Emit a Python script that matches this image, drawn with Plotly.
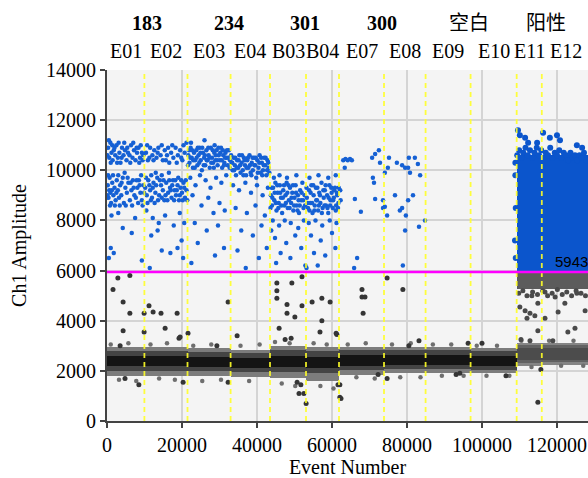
import plotly.graph_objects as go

# ---------------- data ----------------
wells = ["E01", "E02", "E03", "E04", "B03", "B04", "E07", "E08", "E09", "E10", "E11", "E12"]
well_start = [0, 9970, 21470, 32960, 43470, 53070, 61870, 73870, 84960, 96960, 109250, 115950]
well_end = [9970, 21470, 32960, 43470, 53070, 61870, 73870, 84960, 96960, 109250, 115950, 129000]
sample_groups = ["183", "234", "301", "300", "空白", "阳性"]
group_x = [10700, 32500, 52700, 73400, 96500, 117000]
threshold = 5943

# negative droplet band per well (amplitude)
neg_core_lo = [2200, 2200, 2150, 2100, 2150, 2100, 2200, 2250, 2250, 2200, 2450, 2450]
neg_core_hi = [2600, 2600, 2550, 2500, 2600, 2550, 2650, 2650, 2650, 2600, 2900, 2900]
neg_mid_lo = [2000, 2000, 1980, 1950, 1950, 1900, 2050, 2080, 2080, 2050, 2330, 2350]
neg_mid_hi = [2800, 2800, 2750, 2700, 2850, 2800, 2820, 2820, 2820, 2780, 3020, 3020]
neg_halo_lo = [1800, 1800, 1800, 1750, 1700, 1600, 1850, 1900, 1900, 1900, 2200, 2250]
neg_halo_hi = [2950, 2950, 2900, 2850, 3000, 2950, 2950, 2950, 2950, 2900, 3100, 3100]

# dense positive block of the positive control wells (E11, E12)
pos_block_lo = 5943
pos_block_hi = 10600
rain_block_lo = 5250

# positive droplets (thousand events, thousand amplitude)
pos_E01 = [(0.3,10.9),(0.6,10.5),(0.9,11.1),(1.2,10.7),(1.5,10.4),(1.8,10.8),(2.2,10.6),(2.5,11.0),(2.9,10.5),
           (3.3,10.7),(3.6,10.3),(4.0,10.9),(4.4,10.6),(4.8,10.8),(5.2,10.4),(5.6,10.7),(6.0,10.6),(6.4,11.0),
           (6.8,10.5),(7.2,10.8),(7.6,10.4),(8.0,10.7),(8.4,10.9),(8.8,10.5),(9.3,10.7),(9.7,10.6),
           (0.1,10.6),(0.5,11.2),(1.0,10.3),(1.4,11.0),(2.0,10.9),(2.7,10.3),(3.1,11.1),(3.9,10.5),(4.6,11.1),
           (5.4,10.9),(6.2,10.3),(7.0,11.1),(7.9,10.9),(8.6,10.3),(9.0,11.0),(9.5,10.4),
           (0.2,9.4),(0.4,8.9),(0.7,9.7),(0.9,9.1),(1.1,8.7),(1.4,9.5),(1.7,9.0),(2.0,9.3),(2.3,8.8),(2.6,9.6),
           (2.9,9.2),(3.2,8.9),(3.5,9.4),(3.8,9.0),(4.2,9.7),(4.5,8.7),(4.9,9.3),(5.3,9.1),(5.7,9.5),(6.1,8.8),
           (6.5,9.2),(6.9,9.6),(7.3,9.0),(7.7,8.9),(8.1,9.3),(8.5,9.6),(8.9,9.1),(9.3,8.8),(9.7,9.4),
           (0.1,9.0),(0.3,9.8),(0.6,9.2),(0.8,8.6),(1.3,9.2),(1.6,9.8),(2.1,8.6),(2.5,9.1),(3.0,9.8),(3.4,8.6),
           (3.9,9.5),(4.7,9.9),(5.0,8.6),(5.5,9.7),(6.3,9.5),(6.7,8.6),(7.1,9.3),(7.9,9.6),(8.3,8.7),(8.7,9.4),
           (9.1,9.8),(9.5,8.6),(9.9,9.1),
           (1.2,8.2),(3.0,8.3),(4.2,7.7),(7.5,8.1),(1.0,6.9),(1.8,6.7),(0.5,6.5),(9.3,6.4),(6.6,7.5)]
pos_E02 = [(10.4,10.7),(10.9,10.4),(11.5,10.9),(12.1,10.6),(12.6,10.8),(13.2,10.5),(13.7,10.9),(14.3,10.6),
           (14.9,10.4),(15.4,10.8),(16.0,10.6),(16.6,10.3),(17.1,10.7),(17.7,10.5),(18.3,10.9),(18.9,10.6),
           (19.5,10.8),(20.1,10.4),(20.7,10.7),(21.2,11.1),
           (10.7,11.0),(11.3,10.5),(12.4,10.4),(13.5,10.7),(14.6,11.0),(15.7,10.4),(16.3,10.9),(17.4,11.0),
           (18.6,10.3),(19.8,10.5),(20.4,11.0),
           (10.2,9.3),(10.6,9.0),(11.0,9.6),(11.5,9.2),(12.0,8.9),(12.4,9.5),(12.9,9.1),(13.4,9.7),(13.9,9.0),
           (14.4,9.4),(14.9,9.2),(15.3,8.8),(15.8,9.5),(16.3,9.1),(16.8,9.3),(17.2,8.9),(17.6,9.6),(18.0,9.2),
           (18.4,9.0),(18.8,9.4),(19.2,8.8),(19.6,9.3),(20.0,9.1),(20.4,9.5),(20.8,8.9),(21.2,9.2),
           (10.4,9.7),(10.8,8.7),(11.3,9.4),(11.7,8.8),(12.2,9.3),(12.7,8.7),(13.1,9.4),(13.6,8.8),(14.1,9.6),
           (14.6,8.9),(15.1,9.6),(15.6,9.0),(16.1,8.8),(16.6,9.6),(17.0,9.2),(17.4,9.4),(17.9,8.8),(18.2,9.6),
           (18.6,9.2),(19.0,9.7),(19.4,9.0),(19.8,9.6),(20.2,8.8),(20.6,9.3),(21.0,9.6),(21.4,8.8),
           (11.8,9.8),(13.0,9.9),(14.6,9.8),(16.5,9.9),
           (10.5,8.4),(12.2,8.1),(13.8,7.9),(15.5,8.2),(17.8,7.8),(19.4,8.3),(20.6,7.9),(11.8,7.4),(13.5,7.6),
           (14.6,6.8),(16.9,6.7),(18.8,6.9),(19.9,7.2),(11.4,6.1),(20.3,6.5)]
pos_E03 = [(21.7,10.6),(22.0,10.3),(22.3,10.9),(22.6,10.5),(22.9,10.1),(23.2,10.7),(23.5,10.4),(23.8,10.8),
           (24.1,10.2),(24.4,10.6),(24.7,10.9),(25.0,10.4),(25.3,10.0),(25.6,10.7),(25.9,10.5),(26.2,10.2),
           (26.5,10.8),(26.8,10.4),(27.1,10.6),(27.4,10.1),(27.7,10.9),(28.0,10.5),(28.3,10.3),(28.6,10.7),
           (28.9,10.4),(29.2,10.8),(29.5,10.2),(29.8,10.6),(30.1,10.4),(30.4,10.9),(30.7,10.1),(31.0,10.6),
           (31.3,10.3),(31.6,10.7),(31.9,10.5),(32.2,10.2),(32.5,10.8),(32.8,10.4),
           (21.6,10.2),(21.9,10.8),(22.2,10.5),(22.7,10.8),(23.0,10.4),(23.4,10.1),(23.9,10.5),(24.2,10.9),
           (24.6,10.3),(24.9,10.7),(25.4,10.9),(25.8,10.2),(26.1,10.6),(26.6,10.4),(27.0,10.9),(27.3,10.5),
           (27.8,10.3),(28.2,10.8),(28.5,10.1),(29.0,10.6),(29.4,10.4),(29.7,10.9),(30.2,10.7),(30.6,10.4),
           (30.9,10.8),(31.2,10.2),(31.5,10.5),(32.0,10.8),(32.4,10.5),(32.7,10.1),
           (22.4,11.1),(26.0,11.2),(28.7,11.0),
           (22.2,9.7),(23.6,9.4),(24.8,9.8),(26.3,9.6),(27.6,9.3),(29.1,9.7),(30.5,9.5),(31.8,9.8),(22.8,9.0),
           (25.2,8.6),(27.0,8.9),(28.4,8.3),(30.0,8.7),(31.4,8.4),(23.4,7.9),(26.6,7.6),(29.6,7.8),(24.2,7.1),
           (28.8,6.6),(31.2,6.9),(22.5,6.3)]
pos_E04 = [(33.2,10.3),(33.5,10.0),(33.8,10.5),(34.1,10.2),(34.4,9.8),(34.7,10.4),(35.0,10.1),(35.3,10.6),
           (35.6,9.9),(35.9,10.3),(36.2,10.0),(36.5,10.5),(36.8,10.2),(37.1,9.8),(37.4,10.4),(37.7,10.1),
           (38.0,10.6),(38.3,9.9),(38.6,10.3),(38.9,10.0),(39.2,10.5),(39.5,10.2),(39.8,9.7),(40.1,10.4),
           (40.4,10.1),(40.7,10.6),(41.0,9.9),(41.3,10.3),(41.6,10.0),(41.9,10.5),(42.2,10.2),(42.5,9.8),
           (42.8,10.4),(43.1,10.1),
           (33.1,10.6),(33.4,10.3),(33.9,10.0),(34.2,10.5),(34.6,10.1),(35.1,10.4),(35.5,10.2),(36.0,10.6),
           (36.4,9.8),(36.7,10.4),(37.2,10.1),(37.6,10.5),(38.1,10.2),(38.5,9.8),(38.8,10.5),(39.3,10.2),
           (39.7,10.5),(40.2,9.9),(40.6,10.3),(41.1,10.5),(41.4,9.8),(41.8,10.2),(42.3,10.5),(42.7,10.0),
           (43.0,10.3),(43.3,9.9),
           (33.6,9.4),(35.2,9.2),(36.9,9.5),(38.4,9.1),(40.0,9.4),(41.5,9.0),(42.9,9.3),(34.3,8.5),(37.3,8.3),
           (39.6,8.6),(42.1,8.2),(35.8,7.6),(38.9,7.4),(41.2,7.8),(34.8,6.8),(40.5,6.5),(42.6,6.9),(37.0,6.1)]
pos_B03 = [(43.7,9.0),(44.0,8.6),(44.3,9.3),(44.6,8.8),(44.9,9.5),(45.2,8.4),(45.5,9.1),(45.8,8.7),(46.1,9.4),
           (46.4,8.9),(46.7,8.3),(47.0,9.2),(47.3,8.6),(47.6,9.0),(47.9,9.5),(48.2,8.5),(48.5,8.8),(48.8,9.3),
           (49.1,8.7),(49.4,9.1),(49.7,8.4),(50.0,8.9),(50.3,9.4),(50.6,8.6),(50.9,9.0),(51.2,8.3),(51.5,9.2),
           (51.8,8.8),(52.1,9.5),(52.4,8.5),(52.7,9.0),(44.5,9.7),(46.0,9.8),(48.0,9.7),(50.5,9.8),
           (43.6,8.5),(43.9,9.3),(44.1,8.9),(44.7,9.1),(45.0,8.7),(45.4,9.4),(45.7,8.5),(46.2,9.1),(46.5,8.6),
           (46.9,8.9),(47.2,9.4),(47.7,8.7),(48.1,9.1),(48.4,9.4),(48.7,8.5),(49.2,8.9),(49.6,9.4),(49.9,8.6),
           (50.4,9.1),(50.8,8.4),(51.1,8.8),(51.4,8.6),(51.9,9.1),(52.3,8.8),(52.8,8.6),
           (44.2,8.0),(45.9,7.8),(47.4,8.0),(49.0,7.9),(51.0,7.7),(52.5,8.0),(44.8,7.3),(47.8,7.1),(50.2,7.4),
           (46.3,6.7),(48.9,6.5),(51.8,6.9),(45.1,6.3),(52.9,6.2),(43.8,7.6)]
pos_B04 = [(53.3,8.9),(53.6,8.5),(53.9,9.2),(54.2,8.7),(54.5,9.4),(54.8,8.3),(55.1,9.0),(55.4,8.6),(55.7,9.3),
           (56.0,8.8),(56.3,8.4),(56.6,9.1),(56.9,8.7),(57.2,9.5),(57.5,8.5),(57.8,8.9),(58.1,9.2),(58.4,8.6),
           (58.7,9.0),(59.0,8.3),(59.3,9.4),(59.6,8.8),(59.9,9.1),(60.2,8.5),(60.5,8.9),(60.8,9.3),(61.1,8.6),
           (61.4,9.0),(61.7,8.7),(54.0,9.7),(56.4,9.8),(59.0,9.7),(61.0,9.8),
           (53.2,9.3),(53.5,8.7),(54.0,8.4),(54.3,9.1),(54.7,8.7),(55.0,9.4),(55.3,8.4),(55.8,8.8),(56.1,9.3),
           (56.5,8.6),(56.8,9.0),(57.3,8.3),(57.7,9.2),(58.0,8.6),(58.3,9.4),(58.8,8.5),(59.1,8.9),(59.5,8.6),
           (59.8,9.3),(60.3,8.8),(60.6,9.2),(61.0,8.4),(61.3,9.1),(61.6,8.5),(61.8,9.3),
           (53.8,7.9),(55.6,8.0),(57.4,7.8),(59.4,8.0),(61.2,7.9),(54.4,7.4),(57.0,7.2),(60.0,7.5),(55.2,6.7),
           (58.2,6.6),(60.9,6.9),(56.2,6.2),(53.2,6.1)]
pos_E07 = [(63.0,10.4),(63.6,10.45),(64.2,10.4),(64.8,10.45),(65.3,10.4),(63.4,10.1),(66.1,8.85),(67.7,8.35),
           (71.5,8.85),(70.9,9.7),(70.7,10.5),(71.5,10.65),(72.5,10.8),(72.8,10.3),(66.7,6.5),(65.9,6.1),
           (71.2,9.5),(62.3,8.8),(62.2,9.2),(73.6,8.5)]
pos_E08 = [(73.6,8.8),(74.1,8.55),(74.7,8.2),(75.2,10.5),(74.9,10.1),(74.1,9.9),(76.8,9.0),(77.3,10.3),
           (78.7,8.5),(78.1,8.4),(78.7,10.2),(79.5,10.1),(80.5,10.5),(80.3,10.1),(80.8,9.9),(82.1,10.5),
           (82.9,10.25),(83.5,9.8),(81.6,9.0),(80.3,8.8),(79.7,8.2),(79.5,7.6),(83.2,7.75),(84.8,8.0),(78.9,6.2)]
pos_E11_E12 = [(109.4,10.6),(109.9,10.8),(110.5,10.5),(111.0,10.7),(111.6,10.9),(112.2,10.6),(112.8,10.8),
               (113.4,10.5),(114.0,10.7),(114.6,10.9),(115.2,10.6),(115.8,10.8),(116.4,10.5),(117.0,10.7),
               (117.6,10.6),(118.2,10.9),(118.8,10.5),(119.4,10.7),(120.0,10.6),(120.6,10.8),(121.2,10.5),
               (121.8,10.7),(122.4,10.6),(123.0,10.4),(123.6,10.7),(124.2,10.5),(124.8,10.6),(125.4,10.4),
               (126.0,10.6),(126.6,10.5),(127.2,10.7),(127.8,10.4),
               (109.6,11.6),(110.1,11.4),(111.5,11.3),(112.3,11.1),(114.7,11.1),(116.3,11.5),(118.1,11.3),
               (120.0,11.4),(120.8,11.2),(125.3,11.0),(126.7,10.9),
               (108.9,9.8),(109.0,8.5),(108.8,7.2),(109.0,6.5),(108.9,10.3)]

# negative "rain" droplets (thousand events, thousand amplitude)
rain_mid = [(1.6,5.25),(2.9,5.7),(6.1,5.8),(4.3,4.75),(6.1,4.3),(4.3,3.6),(9.9,4.3),(11.2,4.6),(12.3,4.35),
            (14.4,4.3),(9.9,3.55),(15.5,3.7),(18.7,4.3),(19.2,3.3),(21.6,3.5),(32.3,4.75),(34.7,3.4),
            (29.3,3.0),(45.3,5.5),(45.3,5.2),(49.3,5.5),(45.3,4.9),(48.0,4.65),(48.0,4.3),(50.1,4.15),
            (52.0,5.75),(52.0,4.6),(45.9,3.7),(47.5,3.25),(49.1,3.3),(54.7,4.75),(57.3,4.9),(59.5,4.75),
            (57.3,4.0),(56.8,3.55),(61.3,3.45),(3.5,3.0),(19.5,3.35),(61.1,3.5),(68.0,5.25),(68.0,4.95),
            (68.8,4.95),(68.3,4.3),(74.7,5.7),(78.9,5.25),(83.2,3.2),(100.0,3.1),(80.5,3.0),(96.3,3.1)]
rain_low = [(72.3,1.85),(74.7,1.7),(62.1,0.95),(62.1,1.45),(93.1,1.85),(94.1,1.9),(106.4,1.8),(114.9,0.75),
            (115.7,2.05),(8.5,1.45),(4.8,1.7),(20.3,1.55),(32.3,1.55),(51.2,1.1),(51.7,1.45),(53.1,0.7),
            (52.5,1.1),(50.7,1.55),(61.6,1.45),(62.4,0.9)]
band_fringe = [(1.0,3.05),(3.2,1.65),(5.7,3.1),(7.8,1.6),(11.6,3.05),(13.9,1.7),(16.0,3.1),(18.1,1.65),
               (23.0,3.0),(25.4,1.6),(27.8,3.05),(30.4,1.65),(35.6,3.0),(37.9,1.6),(40.7,3.05),(44.8,3.15),
               (46.6,1.5),(48.7,3.1),(50.2,1.4),(55.1,3.1),(56.9,1.4),(58.6,3.05),(60.4,1.3),(64.2,3.05),
               (66.5,1.75),(69.0,3.1),(71.4,1.7),(76.0,3.05),(78.2,1.75),(81.0,3.1),(83.6,1.75),(86.9,3.05),
               (89.3,1.8),(91.8,3.05),(95.1,1.8),(98.6,3.0),(101.2,1.8),(104.0,3.0),(107.3,1.8),(110.5,3.2),
               (113.2,2.15),(117.9,3.2),(121.1,2.2),(124.4,3.2),(127.0,2.2)]
rain_pos_ctrl = [(110.1,4.55),(111.5,4.4),(112.8,4.3),(114.1,4.2),(114.9,4.7),(112.0,4.1),(114.9,3.6),
                 (116.8,4.1),(120.3,4.35),(122.1,4.7),(122.9,3.55),(124.8,3.7),(127.5,4.4),(118.9,3.2),
                 (112.8,3.2),(110.4,3.25),(125.3,5.1),(119.5,4.95),(113.3,5.0),(116.8,5.15),
                 (109.8,5.1),(110.9,5.2),(112.0,5.0),(113.5,5.15),(114.8,5.05),(116.2,5.2),(117.5,5.0),
                 (118.7,5.1),(120.1,5.25),(121.4,5.05),(122.6,5.15),(123.9,5.0),(125.1,5.2),(126.4,5.1),
                 (127.6,5.0)]

x_ticks = [0, 20000, 40000, 60000, 80000, 100000, 120000]
y_ticks = [0, 2000, 4000, 6000, 8000, 10000, 12000, 14000]
x_max = 128270
y_max = 14000

# ---------------- figure ----------------
SERIF = "Liberation Serif, Times New Roman, serif"
BLUE = "#1560d4"
fig = go.Figure()

centers = [(s + e) / 2 for s, e in zip(well_start, well_end)]
widths = [e - s for s, e in zip(well_start, well_end)]
ctrl = [i for i, w in enumerate(wells) if w in ("E11", "E12")]
samp = [i for i, w in enumerate(wells) if w not in ("E11", "E12")]


def band(idx, lo, hi, color):
    fig.add_trace(go.Bar(x=[centers[i] for i in idx], width=[widths[i] for i in idx],
                         base=[lo[i] for i in idx], y=[hi[i] - lo[i] for i in idx],
                         marker=dict(color=color, line=dict(width=0)), showlegend=False,
                         hoverinfo="skip"))


band(samp, neg_halo_lo, neg_halo_hi, "#7c7c7c")
band(samp, neg_mid_lo, neg_mid_hi, "#444444")
band(samp, neg_core_lo, neg_core_hi, "#141414")
band(ctrl, neg_halo_lo, neg_halo_hi, "#858585")
band(ctrl, neg_mid_lo, neg_mid_hi, "#626262")
band(ctrl, neg_core_lo, neg_core_hi, "#4c4c4c")

# positive control dense blocks
cx0, cx1 = well_start[ctrl[0]], well_end[ctrl[-1]]
fig.add_trace(go.Bar(x=[(cx0 + cx1) / 2], width=[cx1 - cx0], base=[rain_block_lo],
                     y=[threshold - rain_block_lo], marker=dict(color="#5c5c5c", line=dict(width=0)),
                     showlegend=False))
fig.add_trace(go.Bar(x=[(cx0 + cx1) / 2], width=[cx1 - cx0], base=[pos_block_lo],
                     y=[pos_block_hi - pos_block_lo], marker=dict(color="#0b55cc", line=dict(width=0)),
                     showlegend=False))


def pts(lst, color, size):
    fig.add_trace(go.Scatter(x=[p[0] * 1000 for p in lst], y=[p[1] * 1000 for p in lst], mode="markers",
                             marker=dict(color=color, size=size, line=dict(width=0)), showlegend=False))


pts(band_fringe, "#6e6e6e", 4.5)
pts(rain_mid + rain_low, "#353535", 5)
pts(rain_pos_ctrl, "#4a4a4a", 5)
pts(pos_E01 + pos_E02 + pos_E03 + pos_E04 + pos_B03 + pos_B04 + pos_E07 + pos_E08, BLUE, 4.5)
pts(pos_E11_E12, "#0b55cc", 6)

shapes = []
for xb in well_start[1:]:
    shapes.append(dict(type="line", xref="x", yref="y", x0=xb, x1=xb, y0=0, y1=y_max,
                       line=dict(color="rgba(255,255,40,0.9)", width=1.8, dash="5px,4px")))
shapes.append(dict(type="line", xref="x", yref="y", x0=0, x1=x_max, y0=threshold, y1=threshold,
                   line=dict(color="#ff00ff", width=2.5)))

ann = []
for w, c in zip(wells, centers):
    ann.append(dict(x=c, y=1.054, xref="x", yref="paper", text=w, showarrow=False,
                    font=dict(family=SERIF, size=20, color="black"), yanchor="middle"))
for g, gx in zip(sample_groups, group_x):
    txt = g if not g.isdigit() else "<b>" + g + "</b>"
    ann.append(dict(x=gx, y=1.134, xref="x", yref="paper", text=txt, showarrow=False,
                    font=dict(family="Liberation Serif, Noto Sans CJK SC", size=20, color="black"),
                    yanchor="middle"))
ann.append(dict(x=118900, y=threshold + 400, xref="x", yref="y", text=str(threshold), showarrow=False,
                xanchor="left", yanchor="middle",
                font=dict(family="Liberation Sans, Arial", size=15, color="black")))

fig.update_layout(
    width=588, height=478, autosize=False, margin=dict(l=107, r=0, t=70, b=57, autoexpand=False),
    paper_bgcolor="white", plot_bgcolor="#f4f4f4", barmode="overlay", bargap=0,
    shapes=shapes, annotations=ann, showlegend=False,
    xaxis=dict(range=[0, x_max], tickvals=x_ticks, tickformat="d", ticks="outside", ticklen=5, tickwidth=1.5,
               tickcolor="#444", showline=True, linecolor="#444", linewidth=2, showgrid=True,
               gridcolor="#d4d4d4", gridwidth=1.5, zeroline=False, automargin=False,
               tickfont=dict(family=SERIF, size=20, color="black"),
               title=dict(text="Event Number", font=dict(family=SERIF, size=20, color="black"), standoff=4)),
    yaxis=dict(range=[0, y_max], tickvals=y_ticks, tickformat="d", ticks="outside", ticklen=5, tickwidth=1.5,
               tickcolor="#444", showline=True, linecolor="#444", linewidth=2, showgrid=True,
               gridcolor="#d4d4d4", gridwidth=1.5, zeroline=False, automargin=False,
               tickfont=dict(family=SERIF, size=20, color="black"),
               title=dict(text="Ch1 Amplitude", font=dict(family=SERIF, size=20, color="black"), standoff=14)),
)

# remove the default page margin / scrollbars so the 588x478 figure fills the window exactly
page_fix = ("document.documentElement.style.overflow='hidden';"
            "document.body.style.margin='0';document.body.style.overflow='hidden';")
fig.write_html("out.html", config={"responsive": False, "displayModeBar": False}, post_script=page_fix)
